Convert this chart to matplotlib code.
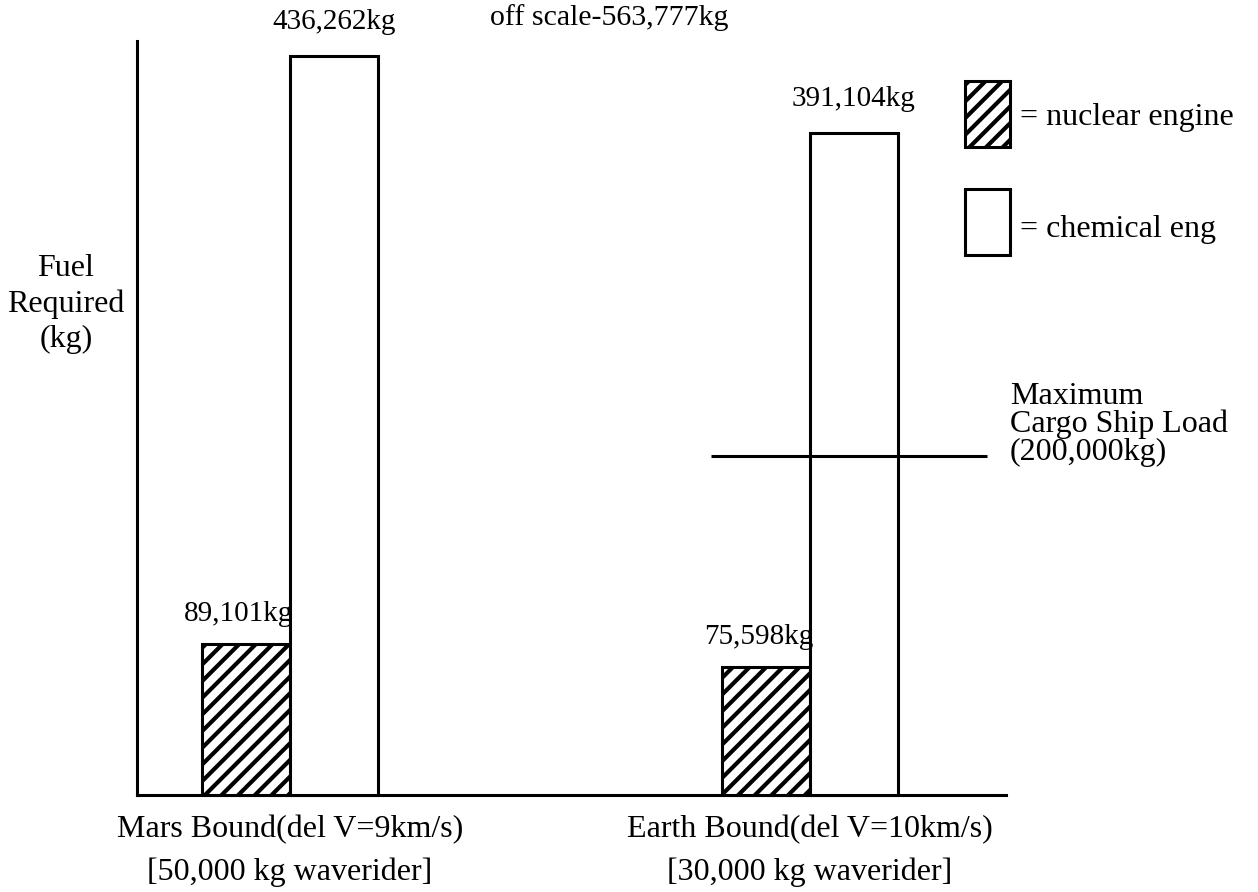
import matplotlib
matplotlib.use("Agg")
import matplotlib.pyplot as plt
from matplotlib.patches import Rectangle

plt.rcParams['font.family'] = ['Liberation Serif', 'DejaVu Serif']
plt.rcParams['hatch.linewidth'] = 3.0

# data
groups = ['Mars Bound(del V=9km/s)\n[50,000 kg waverider]',
          'Earth Bound(del V=10km/s)\n[30,000 kg waverider]']
nuclear = [89101, 75598]       # kg
chemical = [436262, 391104]    # kg
nuclear_lbl = ['89,101kg', '75,598kg']
chemical_lbl = ['436,262kg', '391,104kg']
cargo_max = 200000
off_scale_note = 'off scale-563,777kg'
legend_lbl = ['= nuclear engine', '= chemical eng']

W, H = 1258, 892
fig = plt.figure(figsize=(W / 100, H / 100), dpi=100)
ax = fig.add_axes([137 / W, 1 - 795 / H, (1006 - 137) / W, (795 - 41) / H])

x = [0, 1]
w = 0.169
xn = [i - w / 2 for i in x]
xc = [i + w / 2 for i in x]

ax.bar(xn, nuclear, width=w, facecolor='white', edgecolor='black',
       linewidth=2.2, hatch='//', clip_on=False, zorder=3)
ax.bar(xc, chemical, width=w, facecolor='white', edgecolor='black',
       linewidth=2.2, clip_on=False, zorder=3)

ax.set_xlim(-0.294, 1.377)
ax.set_ylim(0, 445230)

for s in ['top', 'right']:
    ax.spines[s].set_visible(False)
for s in ['left', 'bottom']:
    ax.spines[s].set_linewidth(2.2)
ax.set_yticks([])
ax.set_xticks(x)
ax.set_xticklabels(groups, fontsize=23, linespacing=1.6)
ax.tick_params(axis='x', length=0, pad=14)

# value labels
for i in range(2):
    ax.annotate(nuclear_lbl[i], (xn[i] + w / 2, nuclear[i]), xytext=(3, 30),
                textcoords='offset pixels', ha='right', va='center', fontsize=21)
    ax.annotate(chemical_lbl[i], (xc[i], chemical[i]), xytext=(0, 34),
                textcoords='offset pixels', ha='center', va='center', fontsize=21)

# maximum cargo ship load line
ax.hlines(cargo_max, 0.81, 1.34, color='black', linewidth=2.2, zorder=4)
ax.annotate('Maximum\nCargo Ship Load\n(200,000kg)', (1.34, cargo_max),
            xytext=(23, 32), textcoords='offset pixels', ha='left', va='center',
            fontsize=23, linespacing=0.95, annotation_clip=False)

fig.text(490 / W, 1 - 18 / H, off_scale_note, ha='left', va='center', fontsize=21.5)
fig.text(66 / W, 1 - 304 / H, 'Fuel\nRequired\n(kg)', ha='center', va='center',
         fontsize=23, linespacing=1.3, multialignment='center')

# legend boxes
fig.add_artist(Rectangle((965 / W, 1 - 147 / H), 45 / W, 66 / H,
                         transform=fig.transFigure, facecolor='white',
                         edgecolor='black', linewidth=2.2, hatch='//'))
fig.add_artist(Rectangle((965 / W, 1 - 255 / H), 45 / W, 66 / H,
                         transform=fig.transFigure, facecolor='white',
                         edgecolor='black', linewidth=2.2))
fig.text(1020 / W, 1 - 118 / H, legend_lbl[0], ha='left', va='center', fontsize=23)
fig.text(1020 / W, 1 - 230 / H, legend_lbl[1], ha='left', va='center', fontsize=23)

fig.savefig('out.png', dpi=100, facecolor='white')
